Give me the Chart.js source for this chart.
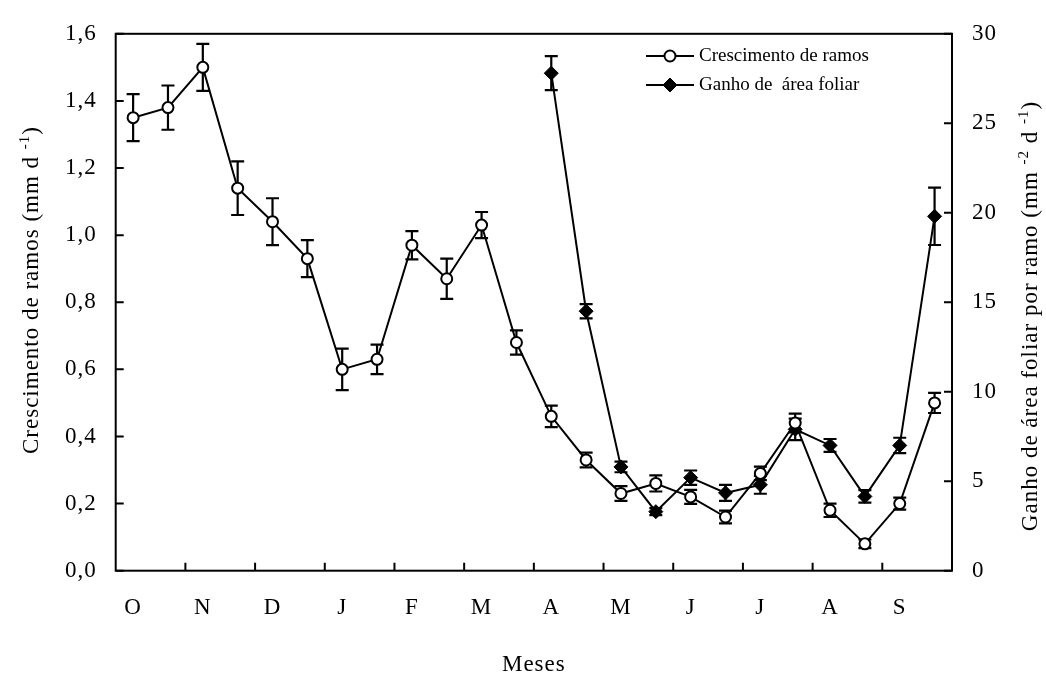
<!DOCTYPE html>
<html>
<head>
<meta charset="utf-8">
<script src="https://cdn.jsdelivr.net/npm/chart.js@4/dist/chart.umd.min.js"></script>
<style>
  body { margin: 0; background: #fff; }
  #wrap { width: 1046px; height: 673px; }
</style>
</head>
<body>
<div id="wrap"><canvas id="grafico" width="1046" height="673"></canvas></div>
<script>
// meses: duas medições por mês
var meses = ['O', 'N', 'D', 'J', 'F', 'M', 'A', 'M', 'J', 'J', 'A', 'S'];

// crescimento de ramos (mm d-1) e erro padrão
var crescimento = [1.35, 1.38, 1.50, 1.14, 1.04, 0.93, 0.60, 0.63, 0.97, 0.87, 1.03, 0.68,
                   0.46, 0.33, 0.23, 0.26, 0.22, 0.16, 0.29, 0.44, 0.18, 0.08, 0.20, 0.50];
var erroCresc = [0.07, 0.066, 0.07, 0.08, 0.07, 0.055, 0.062, 0.044, 0.042, 0.06, 0.039, 0.036,
                 0.032, 0.022, 0.022, 0.024, 0.021, 0.019, 0.02, 0.028, 0.02, 0.013, 0.018, 0.03];

// ganho de área foliar por ramo (mm-2 d-1), medido só a partir de abril
var areaFoliar = [null, null, null, null, null, null, null, null, null, null, null, null,
                  27.8, 14.5, 5.8, 3.3, 5.2, 4.35, 4.8, 7.9, 7.0, 4.15, 7.0, 19.8];
var erroArea = [null, null, null, null, null, null, null, null, null, null, null, null,
                0.95, 0.4, 0.3, 0.2, 0.4, 0.45, 0.5, 0.6, 0.36, 0.35, 0.43, 1.6];

var ticksEsq = [0, 0.2, 0.4, 0.6, 0.8, 1.0, 1.2, 1.4, 1.6];
var ticksDir = [0, 5, 10, 15, 20, 25, 30];

var fonte = '"Liberation Serif", "Times New Roman", serif';
var espaco = '1px';

var rotulos = [];
meses.forEach(function(m) { rotulos.push(m, ''); });

// texto com sobrescritos, centrado em x, linha de base em y
function textoRico(ctx, partes, x, y) {
    var larg = 0;
    partes.forEach(function(p) {
        ctx.font = (p.sup ? '15px ' : '23px ') + fonte;
        p.w = ctx.measureText(p.t).width;
        larg += p.w;
    });
    var cx = x - larg / 2;
    partes.forEach(function(p) {
        ctx.font = (p.sup ? '15px ' : '23px ') + fonte;
        ctx.fillText(p.t, cx, p.sup ? y - 9 : y);
        cx += p.w;
    });
}

var moldura = {
    id: 'moldura',
    beforeDraw: function(chart) {
        chart.ctx.letterSpacing = espaco;
    },
    beforeDatasetsDraw: function(chart) {
        var ctx = chart.ctx, a = chart.chartArea;
        var sx = chart.scales.x, sy = chart.scales.y, sy1 = chart.scales.y1;
        ctx.save();
        ctx.strokeStyle = '#000';
        ctx.lineWidth = 2;
        ctx.strokeRect(a.left, a.top, a.right - a.left, a.bottom - a.top);
        ctx.beginPath();
        sy.ticks.forEach(function(t) {
            var p = sy.getPixelForValue(t.value);
            ctx.moveTo(a.left, p); ctx.lineTo(a.left + 8, p);
        });
        sy1.ticks.forEach(function(t) {
            var p = sy1.getPixelForValue(t.value);
            ctx.moveTo(a.right, p); ctx.lineTo(a.right - 8, p);
        });
        for (var i = 2; i < rotulos.length; i += 2) {
            var px = (sx.getPixelForValue(i - 1) + sx.getPixelForValue(i)) / 2;
            ctx.moveTo(px, a.bottom); ctx.lineTo(px, a.bottom - 8);
        }
        ctx.stroke();

        // barras de erro
        var series = [[crescimento, erroCresc, sy], [areaFoliar, erroArea, sy1]];
        ctx.lineWidth = 2.2;
        series.forEach(function(s) {
            s[0].forEach(function(v, i) {
                if (v === null || s[1][i] === null) return;
                var px = sx.getPixelForValue(i);
                var top = s[2].getPixelForValue(v + s[1][i]);
                var bot = s[2].getPixelForValue(v - s[1][i]);
                ctx.beginPath();
                ctx.moveTo(px, top); ctx.lineTo(px, bot);
                ctx.moveTo(px - 6.5, top); ctx.lineTo(px + 6.5, top);
                ctx.moveTo(px - 6.5, bot); ctx.lineTo(px + 6.5, bot);
                ctx.stroke();
            });
        });
        ctx.restore();
    },
    afterDraw: function(chart) {
        var ctx = chart.ctx, a = chart.chartArea;
        ctx.save();
        ctx.fillStyle = '#000';
        ctx.textAlign = 'left';
        ctx.textBaseline = 'alphabetic';

        // título eixo x
        textoRico(ctx, [{t: 'Meses'}], (a.left + a.right) / 2, 671);

        // título eixo esquerdo
        ctx.save();
        ctx.translate(38, 290);
        ctx.rotate(-Math.PI / 2);
        textoRico(ctx, [{t: 'Crescimento de ramos (mm d '}, {t: '-1', sup: true}, {t: ')'}], 0, 0);
        ctx.restore();

        // título eixo direito
        ctx.save();
        ctx.translate(1037, 316);
        ctx.rotate(-Math.PI / 2);
        textoRico(ctx, [{t: 'Ganho de área foliar por ramo (mm '}, {t: '-2', sup: true},
                        {t: ' d '}, {t: '-1', sup: true}, {t: ')'}], 0, 0);
        ctx.restore();

        // legenda
        ctx.letterSpacing = '0px';
        ctx.font = '19px ' + fonte;
        ctx.textBaseline = 'middle';
        var linhas = [56, 85];
        chart.data.datasets.forEach(function(ds, k) {
            var y = linhas[k];
            ctx.strokeStyle = '#000';
            ctx.lineWidth = 2;
            ctx.beginPath();
            ctx.moveTo(646, y); ctx.lineTo(694, y);
            ctx.stroke();
            ctx.fillStyle = ds.pointBackgroundColor;
            ctx.strokeStyle = '#000';
            ctx.lineWidth = ds.pointBorderWidth;
            Chart.helpers.drawPoint(ctx, {pointStyle: ds.pointStyle, radius: ds.pointRadius,
                                          rotation: 0, borderWidth: ds.pointBorderWidth}, 670, y);
            ctx.fillStyle = '#000';
            ctx.fillText(ds.label, 699, y);
        });
        ctx.restore();
    }
};

var ctxG = document.getElementById('grafico').getContext('2d');
new Chart(ctxG, {
    type: 'line',
    data: {
        labels: rotulos,
        datasets: [{
            label: 'Crescimento de ramos',
            data: crescimento,
            yAxisID: 'y',
            borderColor: '#000',
            borderWidth: 2,
            pointStyle: 'circle',
            pointRadius: 5.5,
            pointBorderWidth: 2,
            pointBackgroundColor: '#fff',
            pointBorderColor: '#000',
            tension: 0
        }, {
            label: 'Ganho de  área foliar',
            data: areaFoliar,
            yAxisID: 'y1',
            borderColor: '#000',
            borderWidth: 2,
            pointStyle: 'rectRot',
            pointRadius: 7,
            pointBorderWidth: 1,
            pointBackgroundColor: '#000',
            pointBorderColor: '#000',
            tension: 0,
            spanGaps: false
        }]
    },
    options: {
        responsive: false,
        animation: false,
        events: [],
        layout: { padding: { top: 23, left: 0, right: 0, bottom: 0 } },
        plugins: {
            legend: { display: false },
            tooltip: { enabled: false }
        },
        scales: {
            x: {
                type: 'category',
                offset: true,
                grid: { display: false, drawTicks: false },
                border: { display: false },
                ticks: {
                    autoSkip: false, maxRotation: 0, minRotation: 0,
                    padding: 23, color: '#000',
                    font: { family: fonte, size: 23 }
                },
                afterFit: function(s) { s.height = 102.3; }
            },
            y: {
                position: 'left',
                min: 0, max: 1.6,
                afterBuildTicks: function(s) { s.ticks = ticksEsq.map(function(v) { return {value: v}; }); },
                grid: { display: false, drawTicks: false },
                border: { display: false },
                ticks: {
                    padding: 19, color: '#000',
                    font: { family: fonte, size: 23 },
                    callback: function(v) { return v.toFixed(1).replace('.', ','); }
                },
                afterFit: function(s) { s.width = 115.7; }
            },
            y1: {
                position: 'right',
                min: 0, max: 30,
                afterBuildTicks: function(s) { s.ticks = ticksDir.map(function(v) { return {value: v}; }); },
                grid: { display: false, drawTicks: false },
                border: { display: false },
                ticks: {
                    padding: 20, color: '#000',
                    font: { family: fonte, size: 23 }
                },
                afterFit: function(s) { s.width = 94; }
            }
        }
    },
    plugins: [moldura]
});
</script>
</body>
</html>
